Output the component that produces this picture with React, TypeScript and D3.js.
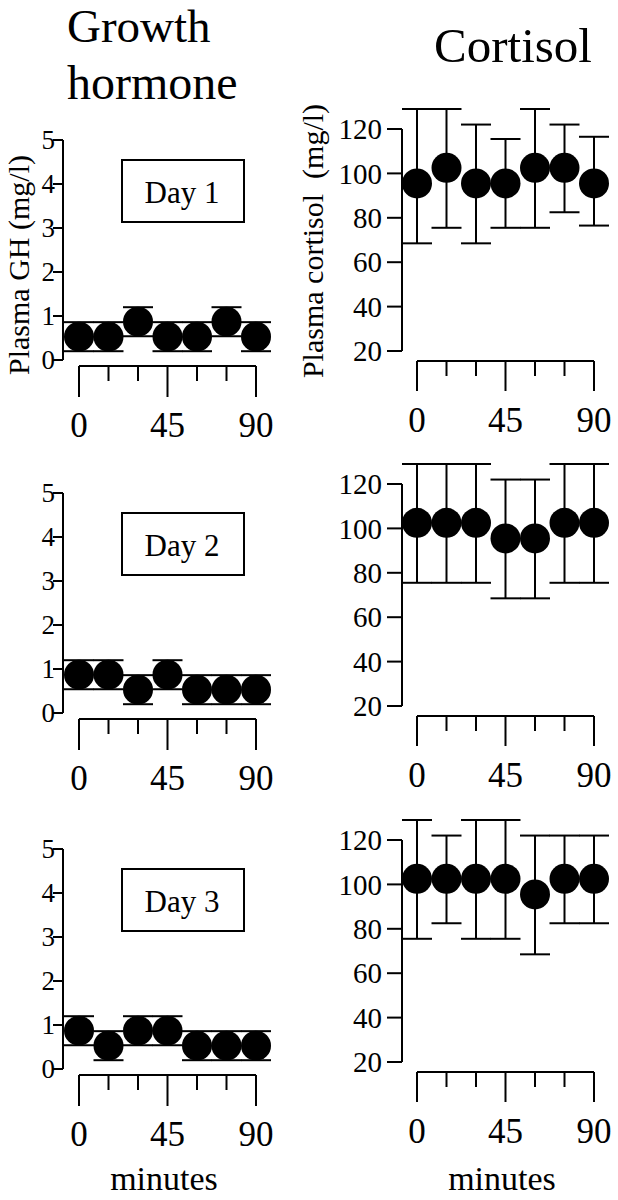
import React from "react";
import * as d3 from "d3";

const minutes = [0, 15, 30, 45, 60, 75, 90];
const xTickLabels = [0, 45, 90];
const ghTicks = [0, 1, 2, 3, 4, 5];
const cortTicks = [20, 40, 60, 80, 100, 120];
const dayLabels = ["Day 1", "Day 2", "Day 3"];

// Growth hormone (mg/l): means and SE
const ghDay1 = [0.53, 0.53, 0.87, 0.53, 0.53, 0.87, 0.53];
const ghDay2 = [0.87, 0.87, 0.53, 0.87, 0.53, 0.53, 0.53];
const ghDay3 = [0.87, 0.53, 0.87, 0.87, 0.53, 0.53, 0.53];
const ghErr1 = [0.33, 0.33, 0.33, 0.33, 0.33, 0.33, 0.33];
const ghErr2 = [0.33, 0.33, 0.33, 0.33, 0.33, 0.33, 0.33];
const ghErr3 = [0.33, 0.33, 0.33, 0.33, 0.33, 0.33, 0.33];

// Cortisol (mg/l): means, upper and lower error limits
const cortDay1 = [95.5, 102.5, 95.5, 95.5, 102.5, 102.5, 95.5];
const cortUp1 = [129, 129, 122, 115.5, 129, 122, 116.5];
const cortLo1 = [68.5, 75.5, 68.5, 75.5, 75.5, 82.5, 76.5];
const cortDay2 = [102.5, 102.5, 102.5, 95.5, 95.5, 102.5, 102.5];
const cortUp2 = [129, 129, 129, 122, 122, 129, 129];
const cortLo2 = [75.5, 75.5, 75.5, 68.5, 68.5, 75.5, 75.5];
const cortDay3 = [102.5, 102.5, 102.5, 102.5, 95.5, 102.5, 102.5];
const cortUp3 = [129, 122, 129, 129, 122, 122, 122];
const cortLo3 = [75.5, 82.5, 75.5, 75.5, 68.5, 82.5, 82.5];

const FONT = "'Liberation Serif', 'Times New Roman', serif";

type PanelProps = {
  means: number[];
  upper: number[];
  lower: number[];
  yDomain: [number, number];
  yTicks: number[];
  top: number;
  height: number;
  axisX: number;
  xRange: [number, number];
  tickLen: number;
  tickLabelX: number;
  tickFont: number;
  xAxisGap: number;
  majorLen: number;
  minorLen: number;
};

function Panel(p: PanelProps) {
  const y = d3.scaleLinear().domain(p.yDomain).range([p.top + p.height, p.top]);
  const x = d3.scaleLinear().domain([0, 90]).range(p.xRange);
  const xAxisY = p.top + p.height + p.xAxisGap;
  const r = 15;
  const cap = 15;
  return (
    <g>
      {/* y axis */}
      <line x1={p.axisX} x2={p.axisX} y1={y(p.yDomain[1])} y2={y(p.yDomain[0])} stroke="#000" strokeWidth={2} />
      {p.yTicks.map((t) => (
        <g key={t}>
          <line x1={p.axisX - p.tickLen} x2={p.axisX} y1={y(t)} y2={y(t)} stroke="#000" strokeWidth={2} />
          <text x={p.tickLabelX} y={y(t)} dy="0.35em" textAnchor="end" fontFamily={FONT} fontSize={p.tickFont}>
            {t}
          </text>
        </g>
      ))}
      {/* x axis (offset) */}
      <line x1={x(0)} x2={x(90)} y1={xAxisY} y2={xAxisY} stroke="#000" strokeWidth={2} />
      {minutes.map((m) => (
        <line
          key={m}
          x1={x(m)}
          x2={x(m)}
          y1={xAxisY}
          y2={xAxisY + (m % 45 === 0 ? p.majorLen : p.minorLen)}
          stroke="#000"
          strokeWidth={2}
        />
      ))}
      {xTickLabels.map((m) => (
        <text key={m} x={x(m)} y={xAxisY + 71} textAnchor="middle" fontFamily={FONT} fontSize={35}>
          {m}
        </text>
      ))}
      {/* error bars */}
      {minutes.map((m, i) => (
        <g key={"e" + m} stroke="#000" strokeWidth={2}>
          <line x1={x(m)} x2={x(m)} y1={y(p.upper[i])} y2={y(p.lower[i])} />
          <line x1={x(m) - cap} x2={x(m) + cap} y1={y(p.upper[i])} y2={y(p.upper[i])} />
          <line x1={x(m) - cap} x2={x(m) + cap} y1={y(p.lower[i])} y2={y(p.lower[i])} />
        </g>
      ))}
      {/* points */}
      {minutes.map((m, i) => (
        <circle key={"c" + m} cx={x(m)} cy={y(p.means[i])} r={r} fill="#000" />
      ))}
    </g>
  );
}

const ghTops = [140, 493, 849];
const cortTops = [129, 484, 840];
const ghMeans = [ghDay1, ghDay2, ghDay3];
const ghErrs = [ghErr1, ghErr2, ghErr3];
const cortMeans = [cortDay1, cortDay2, cortDay3];
const cortUps = [cortUp1, cortUp2, cortUp3];
const cortLos = [cortLo1, cortLo2, cortLo3];

export default function App() {
  return (
    <svg
      width={618}
      height={1200}
      style={{ position: "absolute", left: 0, top: 0, background: "#fff" }}
      xmlns="http://www.w3.org/2000/svg"
    >
      <rect x={0} y={0} width={618} height={1200} fill="#fff" />
      {/* titles */}
      <text x={67} y={42} fontFamily={FONT} fontSize={47}>Growth</text>
      <text x={67} y={99} fontFamily={FONT} fontSize={48}>hormone</text>
      <text x={513} y={62} textAnchor="middle" fontFamily={FONT} fontSize={49}>Cortisol</text>

      {/* y axis labels */}
      <text
        transform="translate(29,265) rotate(-90)"
        textAnchor="middle"
        fontFamily={FONT}
        fontSize={30}
      >
        Plasma GH (mg/l)
      </text>
      <text
        transform="translate(323,241) rotate(-90)"
        textAnchor="middle"
        fontFamily={FONT}
        fontSize={30}
        style={{ whiteSpace: "pre" }}
      >
        {"Plasma cortisol  (mg/l)"}
      </text>

      {[0, 1, 2].map((row) => {
        const ghMean = ghMeans[row];
        const ghErr = ghErrs[row];
        return (
          <g key={row}>
            <Panel
              means={ghMean}
              upper={ghMean.map((v, i) => v + ghErr[i])}
              lower={ghMean.map((v, i) => v - ghErr[i])}
              yDomain={[0, 5]}
              yTicks={ghTicks}
              top={ghTops[row]}
              height={220}
              axisX={63}
              xRange={[79, 256]}
              tickLen={10}
              tickLabelX={55}
              tickFont={27}
              xAxisGap={6}
              majorLen={31}
              minorLen={15}
            />
            <rect x={122} y={ghTops[row] + 20} width={122} height={62} fill="none" stroke="#000" strokeWidth={2} />
            <text x={182} y={ghTops[row] + 63} textAnchor="middle" fontFamily={FONT} fontSize={31}>
              {dayLabels[row]}
            </text>
            <Panel
              means={cortMeans[row]}
              upper={cortUps[row]}
              lower={cortLos[row]}
              yDomain={[20, 120]}
              yTicks={cortTicks}
              top={cortTops[row]}
              height={222}
              axisX={402}
              xRange={[417, 594]}
              tickLen={15}
              tickLabelX={382}
              tickFont={29}
              xAxisGap={10}
              majorLen={30}
              minorLen={15}
            />
          </g>
        );
      })}

      <text x={164} y={1190} textAnchor="middle" fontFamily={FONT} fontSize={34}>minutes</text>
      <text x={502} y={1190} textAnchor="middle" fontFamily={FONT} fontSize={34}>minutes</text>
    </svg>
  );
}
